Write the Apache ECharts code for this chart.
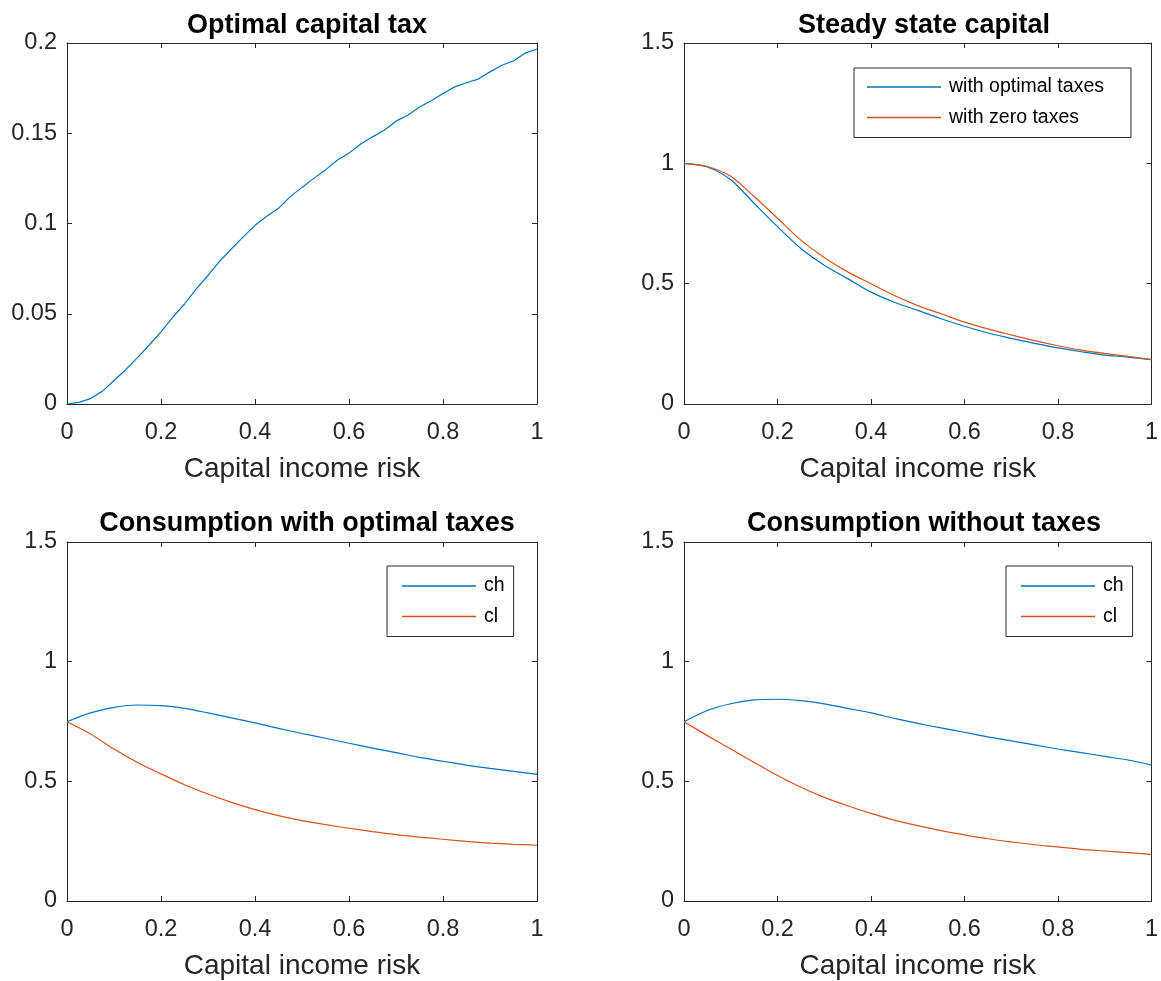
<!DOCTYPE html>
<html>
<head>
<meta charset="utf-8">
<script src="https://cdn.jsdelivr.net/npm/echarts@6/dist/echarts.min.js"></script>
<style>
html,body{margin:0;padding:0;background:#fff;}
#chart{width:1161px;height:981px;}
</style>
</head>
<body>
<div id="chart"></div>
<script>
// ---- data ----
const riskFine = [0,0.025,0.05,0.075,0.1,0.125,0.15,0.175,0.2,0.225,0.25,0.275,0.3,0.325,0.35,0.375,0.4,0.425,0.45,0.475,0.5,0.525,0.55,0.575,0.6,0.625,0.65,0.675,0.7,0.725,0.75,0.775,0.8,0.825,0.85,0.875,0.9,0.925,0.95,0.975,1];
const optimalTax = [0,0.0009,0.003,0.007,0.013,0.019,0.0257,0.0327,0.040,0.048,0.0554,0.0638,0.0712,0.0792,0.086,0.0926,0.099,0.104,0.1084,0.1149,0.120,0.125,0.1297,0.135,0.139,0.144,0.148,0.1517,0.1567,0.160,0.1645,0.168,0.172,0.1757,0.178,0.180,0.184,0.1877,0.190,0.1944,0.1967];

const risk = [0,0.05,0.1,0.15,0.2,0.25,0.3,0.35,0.4,0.45,0.5,0.55,0.6,0.65,0.7,0.75,0.8,0.85,0.9,0.95,1];
const capitalOptimal = [1,0.985,0.932,0.834,0.737,0.646,0.577,0.521,0.465,0.423,0.389,0.354,0.323,0.295,0.273,0.252,0.233,0.217,0.203,0.195,0.184];
const capitalZero    = [1,0.987,0.946,0.862,0.772,0.681,0.609,0.549,0.500,0.451,0.409,0.375,0.340,0.312,0.287,0.263,0.242,0.224,0.210,0.198,0.184];

const chOptimal = [0.749,0.786,0.809,0.819,0.816,0.805,0.786,0.765,0.744,0.721,0.700,0.680,0.659,0.639,0.620,0.600,0.584,0.568,0.554,0.542,0.529];
const clOptimal = [0.749,0.698,0.635,0.579,0.531,0.486,0.447,0.412,0.382,0.357,0.336,0.319,0.304,0.290,0.277,0.267,0.258,0.249,0.242,0.237,0.233];
const chNoTax = [0.749,0.796,0.824,0.840,0.843,0.837,0.824,0.805,0.786,0.763,0.742,0.723,0.705,0.686,0.669,0.652,0.635,0.620,0.604,0.589,0.568];
const clNoTax = [0.749,0.691,0.635,0.579,0.524,0.475,0.433,0.398,0.366,0.338,0.315,0.294,0.276,0.260,0.247,0.235,0.226,0.216,0.209,0.202,0.195];

const titles = ['Optimal capital tax','Steady state capital','Consumption with optimal taxes','Consumption without taxes'];
const xName = 'Capital income risk';
const yMax = [0.2,1.5,1.5,1.5];
const yInterval = [0.05,0.5,0.5,0.5];

// ---- style ----
const BLUE = '#0072BD', RED = '#D95319', AX = '#262626';
const FONT = '"Liberation Sans", Arial, Helvetica, sans-serif';
const grids = [
  {left:67, top:43, width:470, height:361},
  {left:684, top:43, width:470, height:361},
  {left:67, top:542, width:470, height:360},
  {left:684, top:542, width:470, height:360}
];

const xAxes = [], yAxes = [], titleOpts = [];
grids.forEach((g, i) => {
  const common = {type:'value', gridIndex:i, min:0, max:1, interval:0.2, splitLine:{show:false},
    axisLine:{show:true, onZero:false, lineStyle:{color:AX, width:1}},
    axisTick:{show:true, inside:true, length:5, lineStyle:{color:AX, width:1}}};
  xAxes.push(Object.assign({}, common, {position:'bottom',
    axisLabel:{show:true, color:AX, fontSize:23.5, fontFamily:FONT, margin:17},
    name:xName, nameLocation:'middle', nameGap:51,
    nameTextStyle:{color:AX, fontSize:28, fontFamily:FONT}}));
  xAxes.push(Object.assign({}, common, {position:'top', axisLabel:{show:false}}));
  const yc = {type:'value', gridIndex:i, min:0, max:yMax[i], interval:yInterval[i], splitLine:{show:false},
    axisLine:{show:true, onZero:false, lineStyle:{color:AX, width:1}},
    axisTick:{show:true, inside:true, length:5, lineStyle:{color:AX, width:1}}};
  yAxes.push(Object.assign({}, yc, {position:'left',
    axisLabel:{show:true, color:AX, fontSize:23.5, fontFamily:FONT, margin:10, padding:[15,0,0,0]}}));
  yAxes.push(Object.assign({}, yc, {position:'right', axisLabel:{show:false}}));
  titleOpts.push({text:titles[i], left:g.left + g.width/2, textAlign:'center', top: i < 2 ? 7 : 505,
    textStyle:{fontSize:27, fontWeight:'bold', color:'#000', fontFamily:FONT}});
});

function pairs(xs, ys){ return xs.map((x, k) => [x, ys[k]]); }
function line(name, gi, xs, ys, color, smooth){
  return {type:'line', name:name, xAxisIndex:gi*2, yAxisIndex:gi*2, data:pairs(xs, ys),
    symbol:'none', showSymbol:false, smooth:smooth, animation:false,
    lineStyle:{color:color, width:1.2}, itemStyle:{color:color}};
}

const series = [
  line('tax', 0, riskFine, optimalTax, BLUE, false),
  line('with optimal taxes', 1, risk, capitalOptimal, BLUE, 0.3),
  line('with zero taxes', 1, risk, capitalZero, RED, 0.3),
  line('ch', 2, risk, chOptimal, BLUE, 0.3),
  line('cl', 2, risk, clOptimal, RED, 0.3),
  line('ch ', 3, risk, chNoTax, BLUE, 0.3),
  line('cl ', 3, risk, clNoTax, RED, 0.3)
];

function legend(names, left, top, padding){
  return {show:true, data:names.map(n => ({name:n, icon:'rect'})), orient:'vertical', left:left, top:top, padding:padding,
    itemWidth:74, itemHeight:1.3, itemGap:10.5, selectedMode:false,
    borderColor:AX, borderWidth:1, backgroundColor:'#fff',
    textStyle:{fontSize:19.5, color:'#000', fontFamily:FONT, padding:[0,0,0,3]},
    formatter: n => n.trim()};
}

const chart = echarts.init(document.getElementById('chart'), null, {renderer:'canvas'});
chart.setOption({
  animation:false,
  backgroundColor:'#fff',
  title:titleOpts,
  grid:grids,
  xAxis:xAxes,
  yAxis:yAxes,
  legend:[
    legend(['with optimal taxes','with zero taxes'], 854, 68, [9,27,10,13]),
    legend(['ch','cl'], 387, 566, [10,9,10,15]),
    legend(['ch ','cl '], 1006, 566, [10,9,10,15])
  ],
  series:series
});
</script>
</body>
</html>
